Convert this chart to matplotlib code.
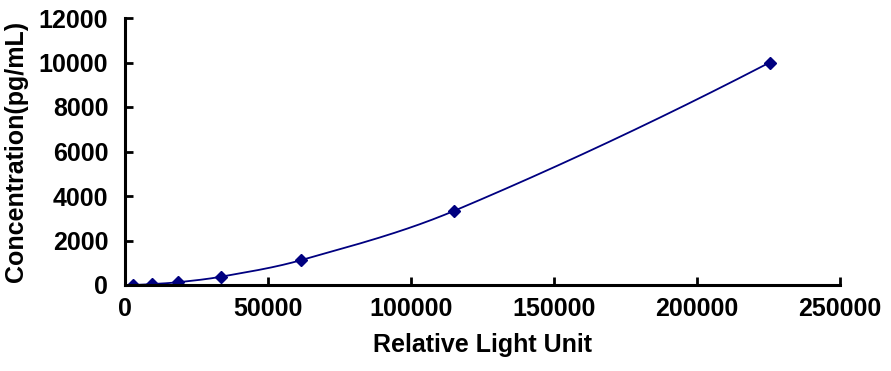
import numpy as np
import matplotlib
matplotlib.use("Agg")
import matplotlib.pyplot as plt

# standard curve points
rlu = [2800, 9400, 18500, 33500, 61400, 115100, 225400]
conc = [0, 41.2, 123.5, 370.4, 1111.1, 3333.3, 10000]

x_ticks = [0, 50000, 100000, 150000, 200000, 250000]
y_ticks = [0, 2000, 4000, 6000, 8000, 10000, 12000]

NAVY = "#000080"


def smooth_line(xs, ys, n=50):
    # cubic Hermite through the points (smoothed line like Excel)
    xs = np.asarray(xs, float)
    ys = np.asarray(ys, float)
    sec = np.diff(ys) / np.diff(xs)
    m = np.zeros_like(xs)
    m[1:-1] = (ys[2:] - ys[:-2]) / (xs[2:] - xs[:-2])
    m[0] = max(2 * sec[0] - m[1], 0)
    m[-1] = 2 * sec[-1] - m[-2]
    out_x, out_y = [], []
    t = np.linspace(0, 1, n)
    for i in range(len(xs) - 1):
        h = xs[i + 1] - xs[i]
        h00 = 2 * t ** 3 - 3 * t ** 2 + 1
        h10 = t ** 3 - 2 * t ** 2 + t
        h01 = -2 * t ** 3 + 3 * t ** 2
        h11 = t ** 3 - t ** 2
        out_x.extend(xs[i] + h * t)
        out_y.extend(h00 * ys[i] + h10 * h * m[i] + h01 * ys[i + 1] + h11 * h * m[i + 1])
    return out_x, out_y


plt.rcParams['font.family'] = ['Liberation Sans', 'DejaVu Sans']
plt.rcParams['font.weight'] = 'bold'

fig = plt.figure(figsize=(8.91, 3.71), dpi=100)
ax = fig.add_axes([125 / 891, 1 - 285 / 371, 715 / 891, 267 / 371])

sx, sy = smooth_line(rlu, conc)
ax.plot(sx, sy, color=NAVY, linewidth=1.3)
ax.plot(rlu, conc, linestyle='none', marker='D', markersize=6.5, color=NAVY)

ax.set_xlim(0, 250000)
ax.set_ylim(0, 12000)
ax.set_xticks(x_ticks)
ax.set_yticks(y_ticks)
ax.tick_params(direction='in', length=6, width=2, labelsize=18)
ax.tick_params(axis='y', pad=12)
ax.tick_params(axis='x', pad=9)
for lab in ax.get_xticklabels() + ax.get_yticklabels():
    lab.set_fontweight('bold')

for side in ['top', 'right']:
    ax.spines[side].set_visible(False)
for side in ['left', 'bottom']:
    ax.spines[side].set_linewidth(2.2)

ax.set_xlabel('Relative Light Unit', fontsize=18, fontweight='bold', labelpad=8)
ax.set_ylabel('Concentration(pg/mL)', fontsize=18, fontweight='bold', labelpad=8)

fig.savefig('out.png', dpi=100)
